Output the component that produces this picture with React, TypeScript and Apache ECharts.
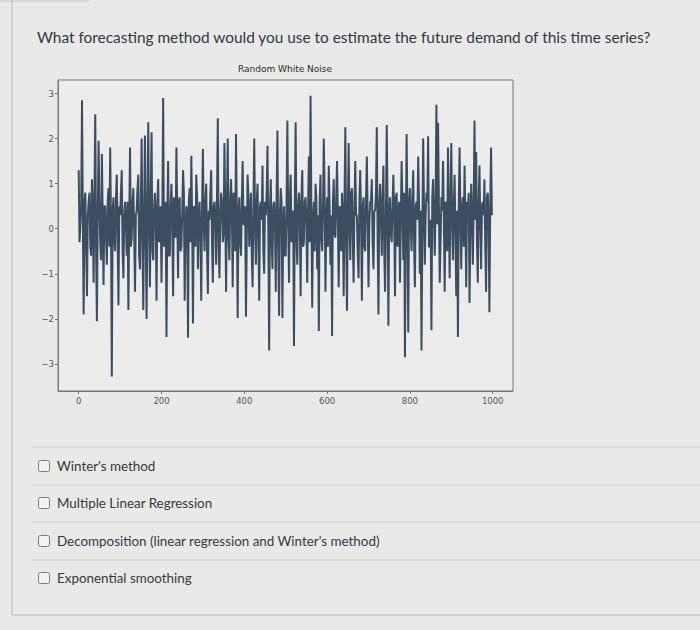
import React, { useEffect, useRef } from "react";
import * as echarts from "echarts";

const chartTitle = "Random White Noise";
const question =
  "What forecasting method would you use to estimate the future demand of this time series?";
const answers = [
  "Winter's method",
  "Multiple Linear Regression",
  "Decomposition (linear regression and Winter's method)",
  "Exponential smoothing",
];
const xTicks = [0, 200, 400, 600, 800, 1000];
const yTicks = [-3, -2, -1, 0, 1, 2, 3];
const stepX = 2;
const noise = [
  1.3, -0.3, 0.1, 0.5, 2.85, 0.2, -1.9, 0.6, 0.8, -0.4, -1.5, 0.3, 0.6, 0.8, -0.4, -0.6, 1.1, 0.4, -1.2, 0.7,
  2.54, -0.5, -2.05, 0.3, 1.95, 0.6, -0.3, -0.7, 1.66, 0.2, -1.25, 0.5, 0.5, -0.2, -0.8, 0.6, 0.9, -0.4, 1.8, 0.1,
  -3.28, 0.4, 0.7, -0.3, -0.5, 0.7, 1.2, -0.2, -1.7, 0.5, 0.3, 0.8, 1.3, -0.5, -1.1, 0.3, 0.6, 0.1, -0.6, 0.6,
  -1.8, 0.2, 1.8, -0.4, -0.2, 0.6, 0.9, -0.1, -1.4, 0.3, 0.4, 0.9, 1.2, -0.6, -0.9, 0.5, 2.0, -0.3, -1.8, 0.4,
  2.07, -0.2, -2.0, 0.5, 2.36, 0.1, -1.3, 0.7, 2.14, -0.5, -0.7, 0.4, 0.8, 0.2, -1.6, 0.6, 1.1, -0.3, 0.2, 0.5,
  -1.2, 0.3, 2.9, -0.4, 0.4, 0.6, -2.4, 0.2, 1.5, -0.6, -0.6, 0.5, 1.0, 0.1, -1.5, 0.7, 0.3, -0.2, 1.8, 0.4,
  -1.1, 0.6, 0.7, -0.5, -0.4, 0.3, 1.3, 0.8, -1.6, -0.1, 0.5, 0.4, -2.42, 0.6, 0.9, -0.3, 1.62, 0.2, -2.1, 0.5,
  0.4, -0.4, 1.2, 0.7, -0.9, 0.3, 0.6, -0.2, -1.6, 0.5, 1.77, 0.1, -0.5, 0.6, 1.0, -0.5, -1.45, 0.4, 0.2, 0.8,
  1.3, -0.3, -1.2, 0.5, 0.6, 0.2, -0.8, 0.7, 2.45, -0.4, -1.1, 0.3, 0.8, 0.6, -0.3, -0.1, 1.9, 0.4, -1.4, 0.5,
  2.0, -0.2, -0.7, 0.6, 1.1, 0.3, -1.3, 0.8, 0.5, -0.5, 2.1, 0.2, -1.98, 0.4, 0.7, -0.3, -0.6, 0.6, 1.5, 0.1,
  0.1, 0.5, -1.95, -0.2, 1.2, 0.7, -0.4, 0.3, 0.8, -0.6, -1.3, 0.4, 2.0, 0.1, -0.8, 0.6, 1.0, -0.3, -1.6, 0.5,
  0.6, 0.2, 1.4, -0.5, -1.0, 0.6, 0.3, 0.8, 1.84, -0.1, -2.7, 0.4, 1.1, -0.3, -0.9, 0.5, 0.6, 0.2, -1.4, 0.7,
  2.18, -0.4, -1.93, 0.3, 0.9, 0.6, -1.98, 0.1, 0.5, -0.6, -0.6, 0.5, 2.4, 0.2, -1.2, 0.7, 1.2, -0.3, 0.2, 0.4,
  -2.6, 0.6, 2.36, -0.2, -0.8, 0.5, 0.8, 0.3, -1.5, 0.7, 1.3, -0.4, -0.3, 0.6, 0.7, 0.1, -1.2, 0.5, 1.6, -0.3,
  2.95, 0.4, -1.75, 0.2, 0.6, -0.5, 1.0, 0.7, -0.9, 0.3, -2.27, 0.6, 1.2, -0.2, -0.5, 0.4, 2.0, 0.8, -1.4, 0.1,
  0.7, -0.4, 1.4, 0.5, -0.8, 0.3, -2.38, 0.6, 1.1, -0.1, -0.2, 0.7, 1.5, 0.2, -1.3, 0.5, 0.4, -0.5, 0.8, 0.3,
  -1.5, 0.6, 2.25, -0.3, -1.82, 0.4, 1.9, 0.1, -0.7, 0.8, 0.9, -0.2, -1.2, 0.5, 1.5, 0.3, 0.3, -0.6, -1.1, 0.6,
  1.3, 0.2, -1.6, 0.5, 0.7, -0.4, -0.5, 0.7, 1.6, 0.3, -1.3, 0.1, 0.6, 0.6, 1.1, -0.3, -0.9, 0.4, 0.4, 0.8,
  2.25, -0.2, -1.9, 0.5, 1.0, 0.3, -0.6, 0.7, 1.4, -0.5, -1.4, 0.2, 2.3, 0.6, -2.15, 0.4, 0.7, -0.1, -0.3, 0.5,
  1.2, 0.3, -1.5, 0.7, 0.8, -0.4, 0.1, 0.6, -1.2, 0.2, 1.5, 0.5, -0.7, 0.8, -2.85, -0.2, 2.1, 0.4, -2.3, 0.6,
  0.9, 0.1, -0.5, 0.7, 1.3, -0.3, -1.3, 0.5, 0.6, 0.2, 1.6, 0.6, -1.0, 0.4, -2.7, -0.1, 2.0, 0.5, -0.8, 0.3,
  0.8, 0.6, 2.05, -0.4, -0.4, 0.2, -2.25, 0.7, 1.1, 0.3, -0.6, 0.5, 2.75, 0.1, 2.35, 0.6, -1.2, -0.3, 0.7, 0.4,
  1.5, 0.2, -1.4, 0.6, 0.5, -0.5, 1.8, 0.3, -1.1, 0.7, 1.9, 0.1, -0.7, 0.5, 1.2, -0.2, -1.5, 0.4, -2.4, 0.6,
  1.8, 0.3, -0.9, 0.5, 0.7, -0.4, 1.4, 0.2, -1.3, 0.6, 0.4, 0.8, -1.65, -0.1, 1.0, 0.4, -0.8, 0.5, 2.4, 0.2,
  1.7, -0.3, -1.2, 0.6, 1.4, 0.1, -0.9, 0.5, 0.6, 0.3, 1.1, -0.4, -1.4, 0.7, 0.8, 0.2, -1.85, 0.5, 1.8, 0.3,
];

const rowY = [466, 503, 541, 578];
const sepY = [447, 485, 522, 560];

export default function App() {
  const ref = useRef<HTMLDivElement>(null);
  useEffect(() => {
    if (!ref.current) return;
    const chart = echarts.init(ref.current, undefined, { renderer: "svg" });
    const data = noise.map((v, i) => [i * stepX, v]);
    const graphics: any[] = [
      {
        type: "line",
        shape: { x1: 12, y1: 0, x2: 12, y2: 615 },
        style: { stroke: "#b8b8b6", lineWidth: 1 },
      },
      {
        type: "line",
        shape: { x1: 0, y1: 1, x2: 90, y2: 1 },
        style: { stroke: "#c4c4c2", lineWidth: 1 },
      },
      {
        type: "line",
        shape: { x1: 12, y1: 615, x2: 700, y2: 615 },
        style: { stroke: "#b8b8b6", lineWidth: 1 },
      },
      {
        type: "text",
        x: 37,
        y: 37,
        style: {
          text: question,
          font: "15.4px Lato",
          fill: "#2d3b45",
          verticalAlign: "middle",
        },
      },
      {
        type: "text",
        x: 285,
        y: 69,
        style: {
          text: chartTitle,
          font: "9px 'DejaVu Sans'",
          fill: "#2a2a2a",
          align: "center",
          verticalAlign: "middle",
        },
      },
    ];
    sepY.forEach((y) => {
      graphics.push({
        type: "line",
        shape: { x1: 32, y1: y, x2: 700, y2: y },
        style: { stroke: "#cfcfcd", lineWidth: 1 },
      });
    });
    answers.forEach((a, i) => {
      graphics.push({
        type: "rect",
        shape: { x: 38.5, y: rowY[i] - 5.5, width: 11, height: 11, r: 2 },
        style: { fill: "#f2f2f0", stroke: "#7a7a7a", lineWidth: 1 },
      });
      graphics.push({
        type: "text",
        x: 57,
        y: rowY[i],
        style: {
          text: a,
          font: "13.4px Lato",
          fill: "#333a40",
          verticalAlign: "middle",
        },
      });
    });

    chart.setOption({
      animation: false,
      backgroundColor: "#e9e9e7",
      grid: {
        left: 58,
        top: 80,
        width: 455,
        height: 311,
        show: true,
        borderColor: "#777777",
        borderWidth: 1,
        backgroundColor: "#ececea",
      },
      xAxis: {
        type: "value",
        min: -50,
        max: 1049,
        splitLine: { show: false },
        axisLine: { show: true, onZero: false, lineStyle: { color: "#777777" } },
        axisTick: {
          show: true,
          length: 3,
          customValues: xTicks,
          lineStyle: { color: "#777777" },
        },
        axisLabel: {
          customValues: xTicks,
          margin: 5,
          fontSize: 8.5,
          color: "#555555",
          fontFamily: "DejaVu Sans",
          formatter: (v: number) => String(v),
        },
      },
      yAxis: {
        type: "value",
        min: -3.6,
        max: 3.3,
        splitLine: { show: false },
        axisLine: { show: true, onZero: false, lineStyle: { color: "#777777" } },
        axisTick: {
          show: true,
          length: 3,
          customValues: yTicks,
          lineStyle: { color: "#777777" },
        },
        axisLabel: {
          customValues: yTicks,
          margin: 4,
          fontSize: 8.5,
          color: "#555555",
          fontFamily: "DejaVu Sans",
          formatter: (v: number) => (v < 0 ? "\u2212" + Math.abs(v) : String(v)),
        },
      },
      series: [
        {
          type: "line",
          data,
          symbol: "none",
          showSymbol: false,
          silent: true,
          lineStyle: { color: "#3b4e61", width: 2 },
        },
      ],
      graphic: graphics,
    });
    return () => chart.dispose();
  }, []);
  return (
    <div
      ref={ref}
      style={{ position: "fixed", left: 0, top: 0, width: 700, height: 630 }}
    />
  );
}
